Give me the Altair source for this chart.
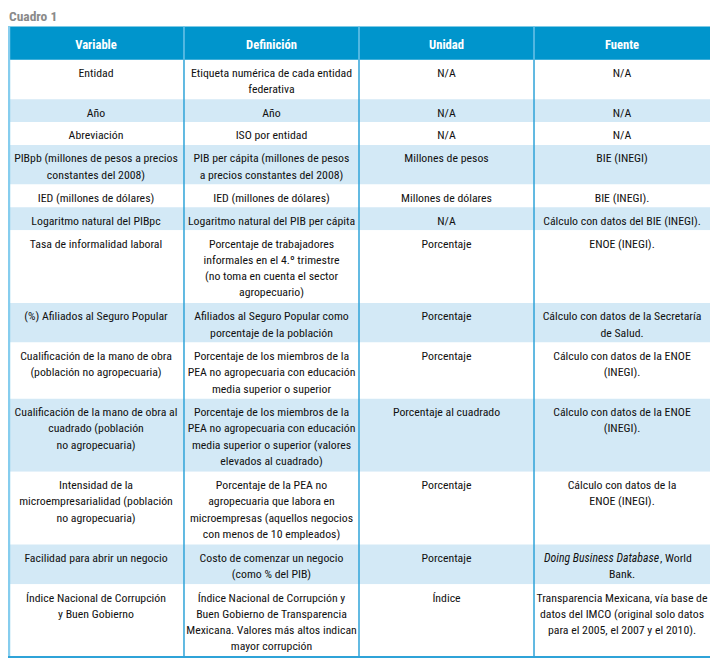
import altair as alt
import pandas as pd

# ---------------- data ----------------
title_text = "Cuadro 1"
headers = ["Variable", "Definición", "Unidad", "Fuente"]

variables = [
    "Entidad",
    "Año",
    "Abreviación",
    "PIBpb (millones de pesos a precios\nconstantes del 2008)",
    "IED (millones de dólares)",
    "Logaritmo natural del PIBpc",
    "Tasa de informalidad laboral",
    "(%) Afiliados al Seguro Popular",
    "Cualificación de la mano de obra\n(población no agropecuaria)",
    "Cualificación de la mano de obra al\ncuadrado (población\nno agropecuaria)",
    "Intensidad de la\nmicroempresarialidad (población\nno agropecuaria)",
    "Facilidad para abrir un negocio",
    "Índice Nacional de Corrupción\ny Buen Gobierno",
]

definiciones = [
    "Etiqueta numérica de cada entidad\nfederativa",
    "Año",
    "ISO por entidad",
    "PIB per cápita (millones de pesos\na precios constantes del 2008)",
    "IED (millones de dólares)",
    "Logaritmo natural del PIB per cápita",
    "Porcentaje de trabajadores\ninformales en el 4.º trimestre\n(no toma en cuenta el sector\nagropecuario)",
    "Afiliados al Seguro Popular como\nporcentaje de la población",
    "Porcentaje de los miembros de la\nPEA no agropecuaria con educación\nmedia superior o superior",
    "Porcentaje de los miembros de la\nPEA no agropecuaria con educación\nmedia superior o superior (valores\nelevados al cuadrado)",
    "Porcentaje de la PEA no\nagropecuaria que labora en\nmicroempresas (aquellos negocios\ncon menos de 10 empleados)",
    "Costo de comenzar un negocio\n(como % del PIB)",
    "Índice Nacional de Corrupción y\nBuen Gobierno de Transparencia\nMexicana. Valores más altos indican\nmayor corrupción",
]

unidades = [
    "N/A", "N/A", "N/A", "Millones de pesos", "Millones de dólares", "N/A",
    "Porcentaje", "Porcentaje", "Porcentaje", "Porcentaje al cuadrado",
    "Porcentaje", "Porcentaje", "Índice",
]

fuentes = [
    "N/A", "N/A", "N/A", "BIE (INEGI)", "BIE (INEGI).",
    "Cálculo con datos del BIE (INEGI).",
    "ENOE (INEGI).",
    "Cálculo con datos de la Secretaría\nde Salud.",
    "Cálculo con datos de la ENOE\n(INEGI).",
    "Cálculo con datos de la ENOE\n(INEGI).",
    "Cálculo con datos de la\nENOE (INEGI).",
    "_Doing Business Database_, World\nBank.",
    "Transparencia Mexicana, vía base de\ndatos del IMCO (original solo datos\npara el 2005, el 2007 y el 2010).",
]

# ---------------- layout ----------------
W, H = 718, 667
col_edges = [0, 180, 359, 538, 718]
header_top, header_bottom = 19, 53
row_pad, line_step = 6.3, 17.1
text_line_h = 16.7
first_baseline = 17.8

FONT = "'Roboto Condensed', 'DejaVu Sans Condensed', sans-serif"
FS = 11.8
C_HEAD = "#0095cc"
C_LIGHT = "#d3e9f6"
C_RULE = "#2fa3d8"
C_RULE_HEAD = "#6cc3e8"
C_EDGE = "#86cdee"
C_TEXT = "#111111"

cells = [variables, definiciones, unidades, fuentes]
nrows = len(variables)
nlines = [max(c[i].count("\n") + 1 for c in cells) for i in range(nrows)]
tops = []
yy = header_bottom
for n in nlines:
    tops.append(yy)
    yy += row_pad + line_step * n
bottoms = tops[1:] + [yy]
table_bottom = yy
centers = [(col_edges[j] + col_edges[j + 1]) / 2 for j in range(4)]

bg = pd.DataFrame({
    "x": [0] * nrows, "x2": [W] * nrows,
    "y": tops, "y2": bottoms,
    "fill": ["#ffffff" if i % 2 == 0 else C_LIGHT for i in range(nrows)],
})
head_bg = pd.DataFrame({"x": [0], "x2": [W], "y": [header_top], "y2": [header_bottom], "fill": [C_HEAD]})

head_rules = pd.DataFrame({"x": col_edges[1:4], "y": [header_top] * 3, "y2": [header_bottom] * 3})
body_rules = pd.DataFrame({"x": col_edges[1:4], "y": [header_bottom] * 3, "y2": [table_bottom] * 3})
left_edge = pd.DataFrame({"x": [1], "y": [header_top], "y2": [table_bottom]})
bottom_edge = pd.DataFrame({"x": [0], "x2": [W], "y": [table_bottom]})

head_txt = pd.DataFrame({"x": centers, "y": [42] * 4, "t": headers})
title_df = pd.DataFrame({"x": [1], "y": [13], "t": [title_text]})

rows_c, rows_i, rows_r = [], [], []
for i in range(nrows):
    for j in range(4):
        for k, line in enumerate(cells[j][i].split("\n")):
            yb = tops[i] + first_baseline + k * text_line_h
            if line.startswith("_"):
                ital, rest = line[1:].split("_", 1)
                rows_i.append({"x": centers[j], "y": yb, "t": ital})
                rows_r.append({"x": centers[j], "y": yb, "t": rest})
            else:
                rows_c.append({"x": centers[j], "y": yb, "t": line})
txt_c = pd.DataFrame(rows_c)
txt_i = pd.DataFrame(rows_i)
txt_r = pd.DataFrame(rows_r)

# ---------------- chart ----------------
xs = alt.Scale(domain=[0, W])
ys = alt.Scale(domain=[0, H], reverse=True)

def X(f="x"):
    return alt.X(f"{f}:Q", scale=xs, axis=None)

def Y(f="y"):
    return alt.Y(f"{f}:Q", scale=ys, axis=None)

rect_bg = alt.Chart(bg).mark_rect().encode(
    x=X(), x2="x2:Q", y=Y(), y2="y2:Q", color=alt.Color("fill:N", scale=None))
rect_head = alt.Chart(head_bg).mark_rect().encode(
    x=X(), x2="x2:Q", y=Y(), y2="y2:Q", color=alt.Color("fill:N", scale=None))
r_head = alt.Chart(head_rules).mark_rule(color=C_RULE_HEAD, strokeWidth=1.5).encode(x=X(), y=Y(), y2="y2:Q")
r_body = alt.Chart(body_rules).mark_rule(color=C_RULE, strokeWidth=1.5).encode(x=X(), y=Y(), y2="y2:Q")
r_left = alt.Chart(left_edge).mark_rule(color=C_EDGE, strokeWidth=2.5).encode(x=X(), y=Y(), y2="y2:Q")
r_bottom = alt.Chart(bottom_edge).mark_rule(color=C_RULE, strokeWidth=2).encode(x=X(), x2="x2:Q", y=Y())

t_head = alt.Chart(head_txt).mark_text(
    font=FONT, fontSize=12.6, fontWeight="bold", color="white", align="center", baseline="alphabetic"
).encode(x=X(), y=Y(), text="t:N")
t_title = alt.Chart(title_df).mark_text(
    font=FONT, fontSize=13.5, fontWeight="bold", color="#8a8a8a", align="left", baseline="alphabetic"
).encode(x=X(), y=Y(), text="t:N")
t_body = alt.Chart(txt_c).mark_text(
    font=FONT, fontSize=FS, color=C_TEXT, align="center", baseline="alphabetic"
).encode(x=X(), y=Y(), text="t:N")
t_ital = alt.Chart(txt_i).mark_text(
    font=FONT, fontSize=FS, fontStyle="italic", color=C_TEXT, align="right", baseline="alphabetic", dx=37
).encode(x=X(), y=Y(), text="t:N")
t_rest = alt.Chart(txt_r).mark_text(
    font=FONT, fontSize=FS, color=C_TEXT, align="left", baseline="alphabetic", dx=38
).encode(x=X(), y=Y(), text="t:N")

chart = alt.layer(
    rect_bg, rect_head, r_head, r_body, r_left, r_bottom,
    t_head, t_title, t_body, t_ital, t_rest,
).properties(
    width=702, height=651, padding=0, autosize=alt.AutoSizeParams(type="none")
).configure_view(stroke=None)

chart.save("out.html", embed_options={"renderer": "svg", "actions": False})
